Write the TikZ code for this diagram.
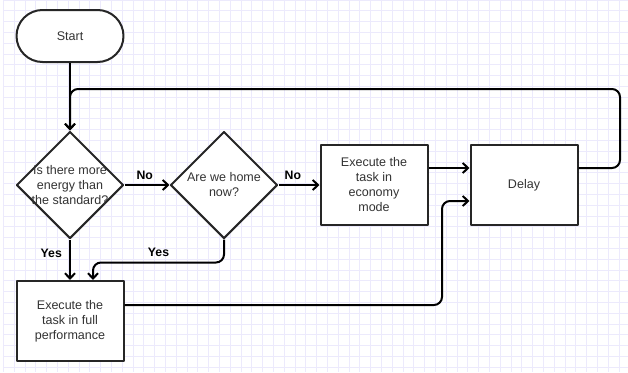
\documentclass[tikz,border=0pt]{standalone}
\usepackage{fontspec}
\setmainfont{Liberation Sans}
\usetikzlibrary{shapes.geometric,arrows.meta}
\definecolor{gridcol}{RGB}{236,234,252}
\definecolor{inkgray}{RGB}{51,51,51}
\tikzset{
  gridline/.style={draw=gridcol, line width=0.75pt},
  txt/.style={text=inkgray, align=center, font=\fontsize{9.4}{11.25}\selectfont},
  block/.style={txt, draw=black!85, line width=1.5pt, fill=white, minimum width=80.25pt, minimum height=60pt, inner sep=1pt},
  terminal/.style={block, minimum height=39pt, rounded corners=19.5pt},
  decision/.style={diamond, draw=black!85, line width=1.5pt, fill=white, minimum width=80.25pt, minimum height=80.25pt, inner sep=0pt},
  flow/.style={draw=black, line width=1.5pt, -{Straight Barb[length=4pt,width=7.5pt]}},
  lbl/.style={font=\bfseries\fontsize{9.2}{11}\selectfont, text=black}
}
\begin{document}
\begin{tikzpicture}[x=0.75pt, y=-0.75pt, line join=round]
  \fill[white] (0,0) rectangle (628,372);
  \useasboundingbox (0,0) rectangle (628,372);
  % background grid
  \foreach \i in {0,...,57} \draw[gridline] ({3.4+10.8*\i},0) -- ({3.4+10.8*\i},372);
  \foreach \j in {0,...,34} \draw[gridline] (3.4,{0.1+10.8*\j}) -- (628,{0.1+10.8*\j});

  \node[terminal] (start) at (70,36) {Start};
  \node[decision, label={[txt]center:Is there more\\energy than\\the standard?}] (d1) at (70,185) {};
  \node[decision, label={[txt]center:Are we home\\now?}] (d2) at (224,185) {};
  \node[block] (econ) at (374,185) {Execute the\\task in\\economy\\mode};
  \node[block] (delay) at (524,185) {Delay};
  \node[block] (full) at (70,321) {Execute the\\task in full\\performance};
  \coordinate (back) at (620,89);
  \coordinate (join) at (442,305);

  \draw[flow] (start) -- (d1);
  \draw[flow] (d1) -- node[lbl, above, pos=0.45]{No} (d2);
  \draw[flow] (d2) -- node[lbl, above, pos=0.35]{No} (econ);
  \draw[flow] (d1) -- node[lbl, left, xshift=-2pt, pos=0.35]{Yes} (full);
  \draw[flow, rounded corners=6pt] (d2.south) -- ++(0,23) -| node[lbl, above, pos=0.25]{Yes} ([xshift=17.25pt]full.north);
  \draw[flow] ([yshift=12.75pt]econ.east) -- ([yshift=12.75pt]delay.west);
  \draw[flow, rounded corners=6pt] ([yshift=12.75pt]delay.east) -| (back) -| (d1.north);
  \draw[flow, rounded corners=6pt] ([yshift=12pt]full.east) -- (join) |- ([yshift=-12pt]delay.west);
\end{tikzpicture}
\end{document}
